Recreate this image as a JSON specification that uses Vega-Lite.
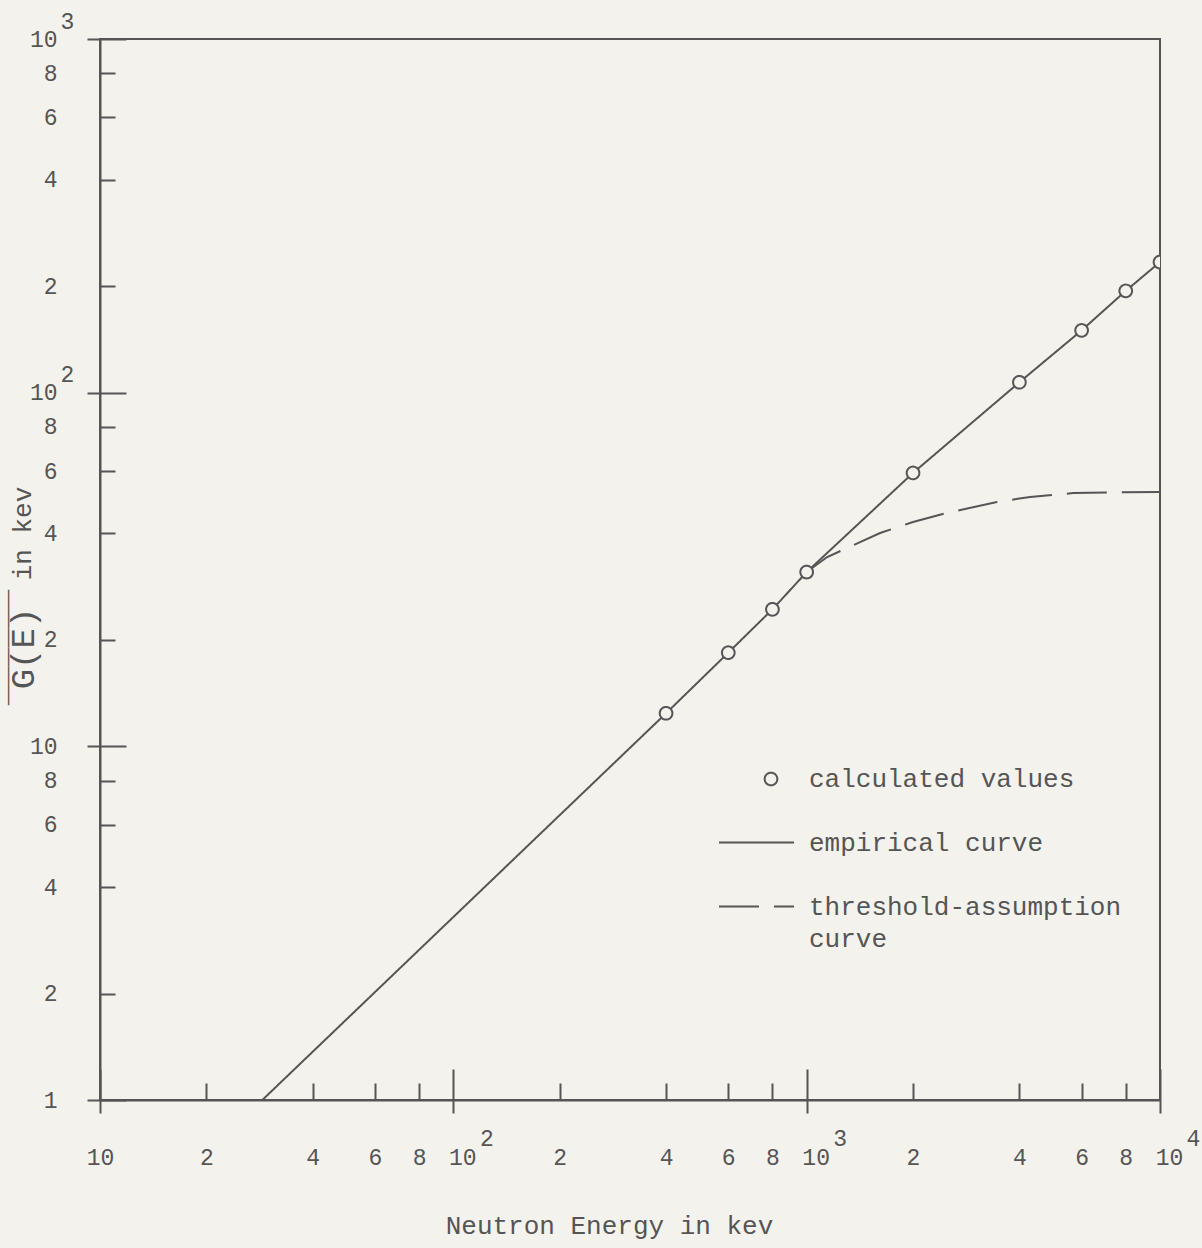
{
  "$schema": "https://vega.github.io/schema/vega-lite/v6.json",
  "width": 1060,
  "height": 1061,
  "autosize": {"type": "none"},
  "padding": {"left": 100, "top": 39, "right": 42, "bottom": 148},
  "background": "#f4f2ed",
  "config": {
    "view": {"stroke": "#555555", "strokeWidth": 2},
    "font": "Liberation Mono",
    "axis": {"grid": false, "labelOverlap": false, "labelFlush": false, "labelBound": false, "labelFont": "Liberation Mono", "labelFontSize": 23, "labelColor": "#555555", "tickColor": "#555555", "tickWidth": 2, "domainColor": "#555555", "domainWidth": 2},
    "legend": {
      "orient": "none", "legendX": 618, "legendY": 727, "title": null, "padding": 0,
      "labelLimit": 0, "rowPadding": 12, "labelOffset": 14,
      "labelFont": "Liberation Mono", "labelFontSize": 26, "labelColor": "#555555", "labelBaseline": "alphabetic",
      "symbolStrokeWidth": 2, "symbolStrokeColor": "#555555"
    }
  },
  "datasets": {
    "calc": [
      {"E": 400, "G": 12.4, "series": "calculated values"},
      {"E": 600, "G": 18.4, "series": "calculated values"},
      {"E": 800, "G": 24.4, "series": "calculated values"},
      {"E": 1000, "G": 31.1, "series": "calculated values"},
      {"E": 2000, "G": 59.3, "series": "calculated values"},
      {"E": 4000, "G": 107, "series": "calculated values"},
      {"E": 6000, "G": 150, "series": "calculated values"},
      {"E": 8000, "G": 194, "series": "calculated values"},
      {"E": 10000, "G": 234, "series": "calculated values"}
    ],
    "curves": [
      {"E": 28.8, "G": 1, "series": "empirical curve"},
      {"E": 400, "G": 12.4, "series": "empirical curve"},
      {"E": 600, "G": 18.4, "series": "empirical curve"},
      {"E": 800, "G": 24.4, "series": "empirical curve"},
      {"E": 1000, "G": 31.1, "series": "empirical curve"},
      {"E": 2000, "G": 59.3, "series": "empirical curve"},
      {"E": 4000, "G": 107, "series": "empirical curve"},
      {"E": 6000, "G": 150, "series": "empirical curve"},
      {"E": 8000, "G": 194, "series": "empirical curve"},
      {"E": 10000, "G": 234, "series": "empirical curve"},
      {"E": 1000, "G": 31.1, "series": "threshold-assumption curve"},
      {"E": 1143, "G": 34.3, "series": "threshold-assumption curve"},
      {"E": 1416, "G": 37.8, "series": "threshold-assumption curve"},
      {"E": 1614, "G": 40.1, "series": "threshold-assumption curve"},
      {"E": 2000, "G": 43.1, "series": "threshold-assumption curve"},
      {"E": 2496, "G": 45.7, "series": "threshold-assumption curve"},
      {"E": 3455, "G": 49.1, "series": "threshold-assumption curve"},
      {"E": 4288, "G": 50.7, "series": "threshold-assumption curve"},
      {"E": 5678, "G": 52.0, "series": "threshold-assumption curve"},
      {"E": 7500, "G": 52.3, "series": "threshold-assumption curve"},
      {"E": 10000, "G": 52.4, "series": "threshold-assumption curve"}
    ]
  },
  "resolve": {"axis": {"x": "independent", "y": "independent"}},
  "layer": [
    {
      "data": {"name": "curves"},
      "mark": {"type": "line", "color": "#555555", "strokeWidth": 2},
      "encoding": {
        "x": {
          "field": "E", "type": "quantitative",
          "scale": {"type": "log", "domain": [10, 10000], "nice": false},
          "axis": {
            "orient": "bottom",
            "values": [10, 20, 40, 60, 80, 100, 200, 400, 600, 800, 1000, 2000, 4000, 6000, 8000, 10000],
            "domain": true,
            "tickSize": {"condition": {"test": "datum.value == 10 || datum.value == 100 || datum.value == 1000 || datum.value == 10000", "value": 13}, "value": 0},
            "labelExpr": "(datum.value == 10 || datum.value == 100 || datum.value == 1000 || datum.value == 10000) ? '10' : (datum.value < 100 ? datum.value / 10 : datum.value < 1000 ? datum.value / 100 : datum.value / 1000)",
            "labelAlign": "center",
            "labelBaseline": "middle",
            "labelPadding": {"condition": {"test": "datum.value == 10 || datum.value == 100 || datum.value == 1000 || datum.value == 10000", "value": 44}, "value": 57},
            "labelOffset": {"condition": {"test": "datum.value == 100 || datum.value == 1000 || datum.value == 10000", "value": 9}, "value": 0},
            "title": "Neutron Energy in kev",
            "titleFont": "Liberation Mono",
            "titleFontSize": 26,
            "titleFontWeight": "normal",
            "titleColor": "#555555",
            "titleX": 509,
            "titleY": 125,
            "titleAlign": "center",
            "titleBaseline": "middle"
          }
        },
        "y": {
          "field": "G", "type": "quantitative",
          "scale": {"type": "log", "domain": [1, 1000], "nice": false},
          "axis": {
            "orient": "left",
            "values": [1, 2, 4, 6, 8, 10, 20, 40, 60, 80, 100, 200, 400, 600, 800, 1000],
            "domain": true,
            "tickSize": {"condition": {"test": "datum.value == 1 || datum.value == 10 || datum.value == 100 || datum.value == 1000", "value": 13}, "value": 0},
            "labelExpr": "datum.value == 1 ? '1' : (datum.value == 10 || datum.value == 100 || datum.value == 1000) ? '10' : (datum.value < 10 ? datum.value : datum.value < 100 ? datum.value / 10 : datum.value / 100)",
            "labelAlign": "right",
            "labelBaseline": "middle",
            "labelPadding": {"condition": {"test": "datum.value == 1 || datum.value == 10 || datum.value == 100 || datum.value == 1000", "value": 30}, "value": 43},
            "title": "in kev",
            "titleFont": "Liberation Mono",
            "titleFontSize": 26,
            "titleFontWeight": "normal",
            "titleColor": "#555555",
            "titleAngle": 270,
            "titleX": -78,
            "titleY": 494,
            "titleAlign": "center",
            "titleBaseline": "middle"
          }
        },
        "strokeDash": {
          "field": "series", "type": "nominal",
          "scale": {"domain": ["calculated values", "empirical curve", "threshold-assumption curve"], "range": [[1, 0], [1, 0], [40, 15]]},
          "legend": {
            "labelExpr": "datum.label == 'threshold-assumption curve' ? ['threshold-assumption', 'curve'] : datum.label",
            "encode": {"labels": {"update": {"dy": {"value": 8}, "lineHeight": {"value": 32}}}, "symbols": {"update": {"x": {"signal": "datum.value == 'calculated values' ? 53 : 38.5"}}}}
          }
        }
      }
    },
    {
      "data": {"name": "calc"},
      "mark": {"type": "point", "filled": true, "fill": "#f4f2ed", "stroke": "#555555", "strokeWidth": 2, "opacity": 1, "clip": true},
      "encoding": {
        "x": {
          "field": "E", "type": "quantitative",
          "scale": {"type": "log", "domain": [10, 10000], "nice": false},
          "axis": {
            "orient": "bottom",
            "values": [10, 20, 40, 60, 80, 100, 200, 400, 600, 800, 1000, 2000, 4000, 6000, 8000, 10000],
            "domain": false,
            "tickSize": {"condition": {"test": "datum.value == 10 || datum.value == 100 || datum.value == 1000 || datum.value == 10000", "value": -31}, "value": -17},
            "labelExpr": "datum.value == 100 ? '2' : datum.value == 1000 ? '3' : datum.value == 10000 ? '4' : ''",
            "labelAlign": "center",
            "labelBaseline": "middle",
            "labelPadding": 69,
            "labelOffset": 33,
            "title": "‾‾‾‾‾‾",
            "titleFont": "DejaVu Sans Mono",
            "titleFontSize": 32,
            "titleFontWeight": "normal",
            "titleColor": "#555555",
            "titleAngle": 270,
            "titleX": -94,
            "titleY": -453,
            "titleAlign": "center",
            "titleBaseline": "top"
          }
        },
        "y": {
          "field": "G", "type": "quantitative",
          "scale": {"type": "log", "domain": [1, 1000], "nice": false},
          "axis": {
            "orient": "left",
            "values": [1, 2, 4, 6, 8, 10, 20, 40, 60, 80, 100, 200, 400, 600, 800, 1000],
            "domain": false,
            "tickSize": {"condition": {"test": "datum.value == 1 || datum.value == 10 || datum.value == 100 || datum.value == 1000", "value": -26}, "value": -15},
            "labelExpr": "datum.value == 100 ? '2' : datum.value == 1000 ? '3' : ''",
            "labelAlign": "left",
            "labelBaseline": "middle",
            "labelPadding": 66,
            "labelOffset": -18,
            "title": "G(E)",
            "titleFont": "Liberation Mono",
            "titleFontSize": 34,
            "titleFontWeight": "normal",
            "titleColor": "#555555",
            "titleAngle": 270,
            "titleX": -77,
            "titleY": 609,
            "titleAlign": "center",
            "titleBaseline": "middle"
          }
        },
        "shape": {
          "field": "series", "type": "nominal",
          "scale": {"domain": ["calculated values", "empirical curve", "threshold-assumption curve"], "range": ["circle", "stroke", "stroke"]},
          "legend": {
            "labelExpr": "datum.label == 'threshold-assumption curve' ? ['threshold-assumption', 'curve'] : datum.label",
            "encode": {"labels": {"update": {"dy": {"value": 8}, "lineHeight": {"value": 32}}}, "symbols": {"update": {"x": {"signal": "datum.value == 'calculated values' ? 53 : 38.5"}}}}
          }
        },
        "size": {
          "field": "series", "type": "nominal",
          "scale": {"type": "ordinal", "domain": ["calculated values", "empirical curve", "threshold-assumption curve"], "range": [160, 5625, 5625]},
          "legend": {
            "labelExpr": "datum.label == 'threshold-assumption curve' ? ['threshold-assumption', 'curve'] : datum.label",
            "encode": {"labels": {"update": {"dy": {"value": 8}, "lineHeight": {"value": 32}}}, "symbols": {"update": {"x": {"signal": "datum.value == 'calculated values' ? 53 : 38.5"}}}}
          }
        },
        "strokeDash": {
          "field": "series", "type": "nominal",
          "scale": {"domain": ["calculated values", "empirical curve", "threshold-assumption curve"], "range": [[1, 0], [1, 0], [40, 15]]},
          "legend": {
            "labelExpr": "datum.label == 'threshold-assumption curve' ? ['threshold-assumption', 'curve'] : datum.label",
            "encode": {"labels": {"update": {"dy": {"value": 8}, "lineHeight": {"value": 32}}}, "symbols": {"update": {"x": {"signal": "datum.value == 'calculated values' ? 53 : 38.5"}}}}
          }
        }
      }
    }
  ]
}
